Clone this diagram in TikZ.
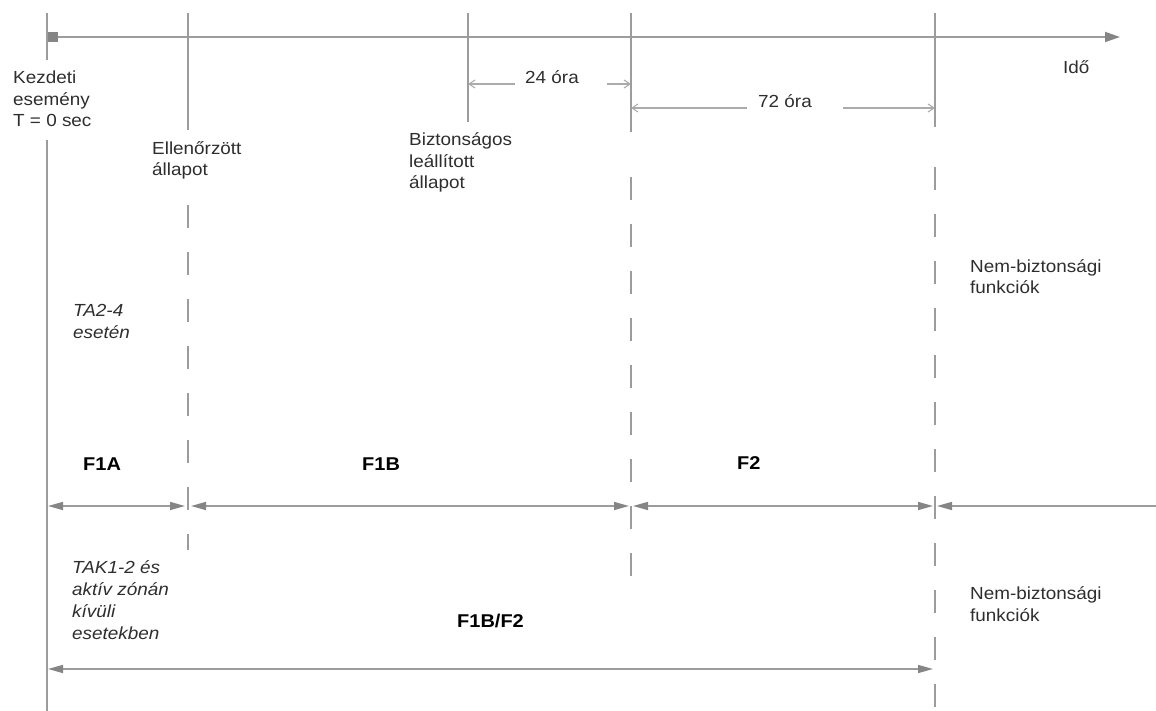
\documentclass[tikz,border=0pt]{standalone}
\usepackage{fontspec}
\setmainfont{Liberation Sans}[FakeStretch=1.08]
\usetikzlibrary{arrows.meta}
\definecolor{ln}{HTML}{9C9C9C}
\definecolor{ah}{HTML}{858585}
\definecolor{tx}{HTML}{2E2E2E}
\begin{document}
\begin{tikzpicture}[x=1pt,y=-1pt,
  vsolid/.style={draw=ln,line width=1.8pt},
  vdash/.style={draw=ln,line width=1.8pt,dash pattern=on 23pt off 24pt},
  span/.style={draw=ln,line width=1.6pt,
    {Triangle[length=15pt,width=8pt,color=ah]}-{Triangle[length=15pt,width=8pt,color=ah]}},
  lspan/.style={draw=ln,line width=1.6pt,{Triangle[length=15pt,width=8pt,color=ah]}-},
  axisarr/.style={draw=ln,line width=1.8pt,-{Triangle[length=15pt,width=10pt,color=ah]}},
  dim/.style={draw=ln!85,line width=1.1pt,-{Straight Barb[length=6pt,width=8pt]}},
  lbl/.style={text=tx,inner sep=0pt,anchor=base west,align=left,
    font=\fontsize{17.5}{21.5}\selectfont},
  ilbl/.style={lbl,font=\fontsize{17.5}{22}\selectfont\itshape},
  blbl/.style={text=black,inner sep=0pt,anchor=base west,
    font=\fontsize{18.5}{22}\selectfont\bfseries}]
\useasboundingbox (0,0) rectangle (1156,711);

% vertical markers
\coordinate (v0t) at (47,13);  \coordinate (v0a) at (47,60);
\coordinate (v0b) at (47,140); \coordinate (v0e) at (47,711);
\coordinate (v1t) at (188,13); \coordinate (v1a) at (188,130);
\coordinate (v1b) at (188,205);\coordinate (v1e) at (188,550);
\coordinate (v2t) at (468,13); \coordinate (v2a) at (468,122);
\coordinate (v3t) at (631,13); \coordinate (v3a) at (631,132);
\coordinate (v3b) at (631,177);\coordinate (v3e) at (631,587);
\coordinate (v4t) at (935,13); \coordinate (v4a) at (935,127);
\coordinate (v4b) at (935,167);\coordinate (v4e) at (935,711);

\draw[vsolid] (v0t) -- (v0a);
\draw[vsolid] (v0b) -- (v0e);
\draw[vsolid] (v1t) -- (v1a);
\draw[vdash]  (v1b) -- (v1e);
\draw[vsolid] (v2t) -- (v2a);
\draw[vsolid] (v3t) -- (v3a);
\draw[vdash]  (v3b) -- (v3e);
\draw[vsolid] (v4t) -- (v4a);
\draw[vdash]  (v4b) -- (v4e);

% time axis
\node[fill=ah,minimum size=10pt,inner sep=0pt] (start) at (53,37) {};
\coordinate (axend) at (1120,37);
\draw[axisarr] (start.east) -- (axend);
\node[lbl] (ido) at (1063,74) {Idő};

% dimension lines
\node[lbl] (d24) at (525,84) {24 óra};
\coordinate (d24l) at (468,84); \coordinate (d24r) at (631,84);
\coordinate (d24a) at (515,84); \coordinate (d24b) at (607,84);
\draw[dim] (d24a) -- (d24l);
\draw[dim] (d24b) -- (d24r);
\node[lbl] (d72) at (758,108) {72 óra};
\coordinate (d72l) at (631,108); \coordinate (d72r) at (935,108);
\coordinate (d72a) at (747,108); \coordinate (d72b) at (843,108);
\draw[dim] (d72a) -- (d72l);
\draw[dim] (d72b) -- (d72r);

% labels (anchor = baseline of the last line)
\node[lbl] (kezd) at (13,127) {Kezdeti\\esemény\\T = 0 sec};
\node[lbl] (ell) at (152,176) {Ellenőrzött\\állapot};
\node[lbl] (bizt) at (409,189) {Biztonságos\\leállított\\állapot};
\node[lbl] (nem1) at (970,294) {Nem-biztonsági\\funkciók};
\node[lbl] (nem2) at (970,621) {Nem-biztonsági\\funkciók};
\node[ilbl] (ta) at (73,338) {TA2-4\\esetén};
\node[ilbl] (tak) at (72,639) {TAK1-2 és\\aktív zónán\\kívüli\\esetekben};
\node[blbl] (f1a) at (83,470) {F1A};
\node[blbl] (f1b) at (362,470) {F1B};
\node[blbl] (f2) at (737,469) {F2};
\node[blbl] (f1bf2) at (457,627) {F1B/F2};

% span arrows
\coordinate (s1) at (48,506);  \coordinate (s2) at (185,506);
\coordinate (s3) at (191,506); \coordinate (s4) at (629,506);
\coordinate (s5) at (633,506); \coordinate (s6) at (933,506);
\coordinate (s7) at (937,506); \coordinate (s8) at (1156,506);
\draw[span] (s1) -- (s2);
\draw[span] (s3) -- (s4);
\draw[span] (s5) -- (s6);
\draw[lspan] (s7) -- (s8);
\coordinate (b1) at (48,669); \coordinate (b2) at (933,669);
\draw[span] (b1) -- (b2);
\end{tikzpicture}
\end{document}
